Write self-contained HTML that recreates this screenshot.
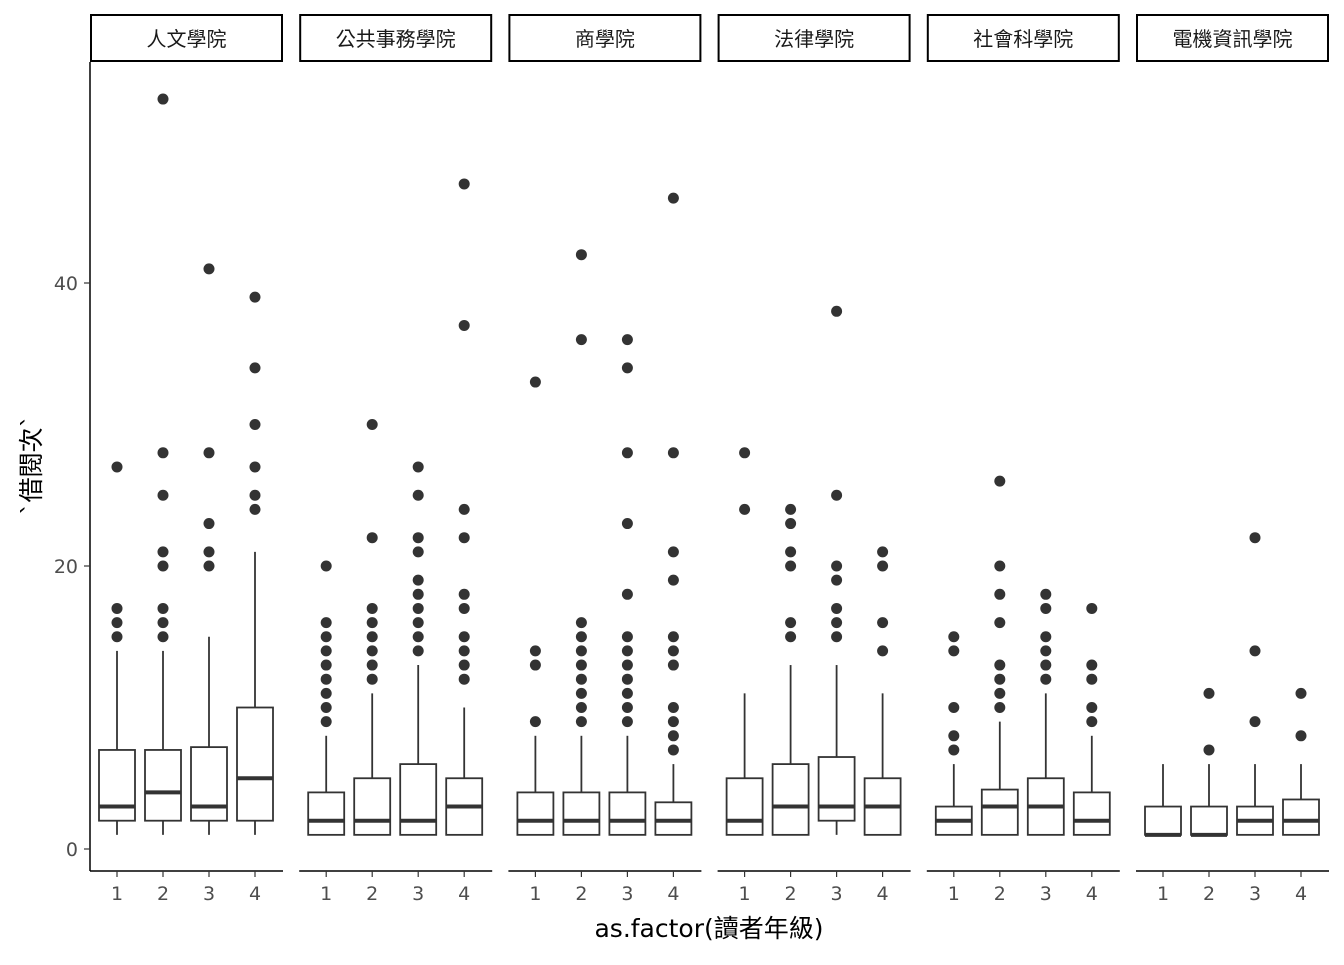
<!DOCTYPE html>
<html><head><meta charset="utf-8">
<style>
html,body{margin:0;padding:0;background:#fff;}
svg text{font-family:"DejaVu Sans","Noto Sans CJK TC",sans-serif;}
</style></head>
<body>
<svg id="chart" width="1344" height="960" xmlns="http://www.w3.org/2000/svg"></svg>
<script>
const panels = ["人文學院","公共事務學院","商學院","法律學院","社會科學院","電機資訊學院"];
const categories = ["1","2","3","4"];
// [lowerWhisker, q1, median, q3, upperWhisker]
const stats = [
 [[1,2,3,7,14],[1,2,4,7,14],[1,2,3,7.2,15],[1,2,5,10,21]],
 [[1,1,2,4,8],[1,1,2,5,11],[1,1,2,6,13],[1,1,3,5,10]],
 [[1,1,2,4,8],[1,1,2,4,8],[1,1,2,4,8],[1,1,2,3.3,6]],
 [[1,1,2,5,11],[1,1,3,6,13],[1,2,3,6.5,13],[1,1,3,5,11]],
 [[1,1,2,3,6],[1,1,3,4.2,9],[1,1,3,5,11],[1,1,2,4,8]],
 [[1,1,1,3,6],[1,1,1,3,6],[1,1,2,3,6],[1,1,2,3.5,6]]
];
const outliers = [
 [[15,16,17,27],[15,16,17,20,21,25,28,53],[20,21,23,28,41],[24,25,27,30,34,39]],
 [[9,10,11,12,13,14,15,16,20],[12,13,14,15,16,17,22,30],[14,15,16,17,18,19,21,22,25,27],[12,13,14,15,17,18,22,24,37,47]],
 [[9,13,14,33],[9,10,11,12,13,14,15,16,36,42],[9,10,11,12,13,14,15,18,23,28,34,36],[7,8,9,10,13,14,15,19,21,28,46]],
 [[24,28],[15,16,20,21,23,24],[15,16,17,19,20,25,38],[14,16,20,21]],
 [[7,8,10,14,15],[10,11,12,13,16,18,20,26],[12,13,14,15,17,18],[9,10,12,13,17]],
 [[],[7,11],[9,14,22],[8,11]]
];
const yTicks = [0,20,40];

const NS="http://www.w3.org/2000/svg";
const svg=document.getElementById('chart');
function mk(tag,attrs,parent){const e=document.createElementNS(NS,tag);for(const k in attrs)e.setAttribute(k,attrs[k]);(parent||svg).appendChild(e);return e;}
const y=v=>849-v*14.15;
const panelX=i=>90+i*209.2;
const PW=193;
const xc=(i,j)=>panelX(i)+27+j*46;

const ya=mk('g',{});


mk('line',{x1:90,x2:90,y1:62,y2:871,stroke:'#000','stroke-width':1.5},ya);
yTicks.forEach(t=>{
  mk('line',{x1:84,x2:90,y1:y(t),y2:y(t),stroke:'#333','stroke-width':1.2},ya);
  const tx=mk('text',{x:78,y:y(t)+7,'text-anchor':'end','font-size':19,fill:'#4d4d4d'},ya);
  tx.textContent=t;
  
  
});
const yt=mk('text',{x:0,y:0,'font-size':25,'text-anchor':'middle',fill:'#000',transform:'translate(40,465) rotate(-90)'});
yt.textContent='`借閱次`';


const xt=mk('text',{x:709,y:937,'font-size':25,'text-anchor':'middle',fill:'#000'});
xt.textContent='as.factor(讀者年級)';



panels.forEach((p,i)=>{
  const g=mk('g',{});
  
  
  const px=panelX(i);
  mk('rect',{x:px+1,y:15,width:PW-2,height:46,fill:'#fff',stroke:'#000','stroke-width':2},g);
  const st=mk('text',{x:px+PW/2,y:46,'font-size':20,'text-anchor':'middle',fill:'#1a1a1a'},g);
  st.textContent=p;
  
  
  mk('line',{x1:px,x2:px+PW,y1:871,y2:871,stroke:'#000','stroke-width':1.5},g);
  categories.forEach((c,j)=>{
    const cx=xc(i,j);
    mk('line',{x1:cx,x2:cx,y1:871,y2:877,stroke:'#333','stroke-width':1.2},g);
    const tl=mk('text',{x:cx,y:900,'font-size':19,'text-anchor':'middle',fill:'#4d4d4d'},g);
    tl.textContent=c;
    
    
    const s=stats[i][j];
    const b=mk('g',{},g);
    
    
    mk('line',{x1:cx,x2:cx,y1:y(s[0]),y2:y(s[1]),stroke:'#333','stroke-width':1.8},b);
    mk('line',{x1:cx,x2:cx,y1:y(s[3]),y2:y(s[4]),stroke:'#333','stroke-width':1.8},b);
    mk('rect',{x:cx-18,y:y(s[3]),width:36,height:y(s[1])-y(s[3]),fill:'#fff',stroke:'#333','stroke-width':1.8},b);
    mk('line',{x1:cx-18,x2:cx+18,y1:y(s[2]),y2:y(s[2]),stroke:'#333','stroke-width':4},b);
    outliers[i][j].forEach(v=>{
      const o=mk('circle',{cx:cx,cy:y(v),r:5.5,fill:'#333'},b);
      
      
    });
  });
});
</script>
</body></html>
